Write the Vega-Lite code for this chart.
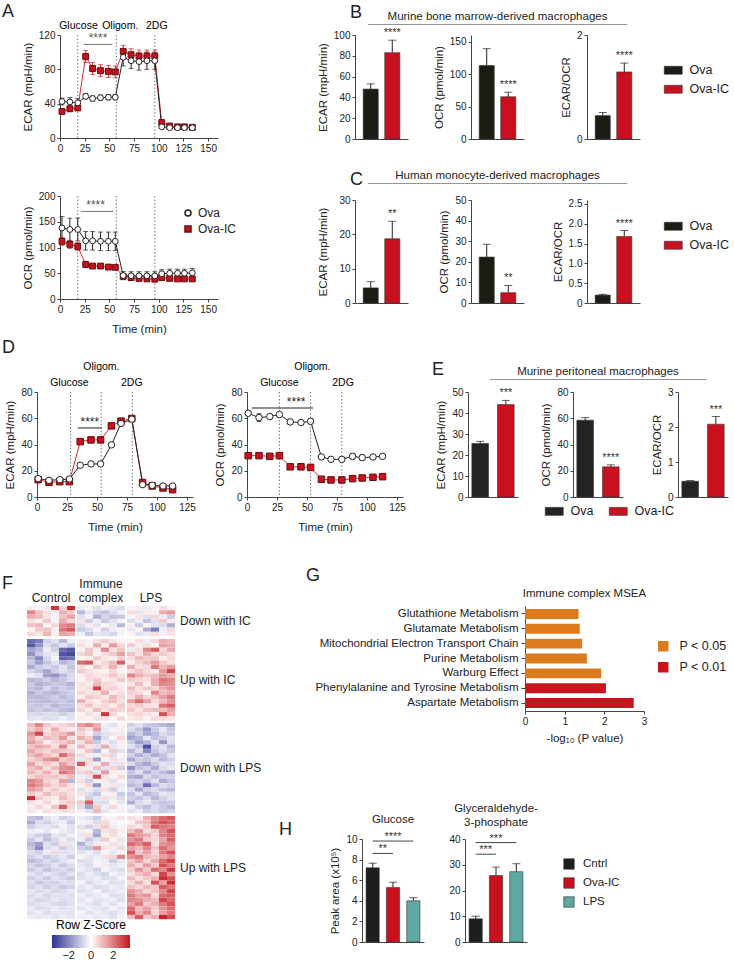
{
"$schema":"https://vega.github.io/schema/vega-lite/v6.json",
"padding":{"left":2,"top":3,"right":0,"bottom":0},
"config":{
 "font":"Liberation Sans",
 "view":{"stroke":null},
 "axis":{"grid":false,"labelFontSize":10,"labelColor":"#222","titleFontSize":11.5,"titleFontWeight":"normal","titleColor":"#222","domainColor":"#444","tickColor":"#444","tickSize":3,"labelPadding":2,"titlePadding":5,"labelOverlap":false},
 "axisX":{"titlePadding":9},
 "title":{"fontWeight":"normal","fontSize":11.5,"color":"#222"},
 "legend":{"labelFontSize":11.5,"labelColor":"#222","titleFontWeight":"normal"},
 "header":{"labelFontSize":11.5,"labelColor":"#222"}
},
"datasets":{
 "inj":[{"p":"a","t":18,"lx":18.7,"lab":"Glucose"},{"p":"a","t":57,"lx":61,"lab":"Oligom."},{"p":"a","t":96,"lx":98,"lab":"2DG"},
  {"p":"d1","t":28,"lx":27,"lab":"Glucose"},{"p":"d1","t":53.5,"lx":53.7,"lab":"Oligom."},{"p":"d1","t":79.5,"lx":79,"lab":"2DG"},
  {"p":"d2","t":27,"lx":27,"lab":"Glucose"},{"p":"d2","t":53,"lx":54.5,"lab":"Oligom."},{"p":"d2","t":79,"lx":80,"lab":"2DG"}],
 "sig":[{"p":"a1","t":24,"t2":53,"tm":38.5,"y":109,"lab":"****"},
  {"p":"a2","t":21,"t2":54,"tm":36,"y":170,"lab":"****"},
  {"p":"d1","t":34,"t2":54,"tm":44,"y":52.6,"lab":"****"},
  {"p":"d2","t":4,"t2":55,"tm":41,"y":67.8,"lab":"****"}],
 "a_ecar":[
  {"s":"Ova-IC","t":2,"v":31,"e":3},{"s":"Ova-IC","t":10,"v":34,"e":3},{"s":"Ova-IC","t":18,"v":35,"e":3},{"s":"Ova-IC","t":26,"v":95,"e":7},{"s":"Ova-IC","t":33,"v":81,"e":7},{"s":"Ova-IC","t":41,"v":78.5,"e":7},{"s":"Ova-IC","t":49,"v":77.5,"e":7},{"s":"Ova-IC","t":56,"v":77,"e":7},{"s":"Ova-IC","t":64,"v":101,"e":7},{"s":"Ova-IC","t":72,"v":97,"e":7},{"s":"Ova-IC","t":80,"v":95.5,"e":7},{"s":"Ova-IC","t":88,"v":95.5,"e":7},{"s":"Ova-IC","t":96,"v":95.5,"e":7},{"s":"Ova-IC","t":103,"v":18,"e":3},{"s":"Ova-IC","t":111,"v":14,"e":2},{"s":"Ova-IC","t":119,"v":13,"e":1.5},{"s":"Ova-IC","t":126,"v":13,"e":1.5},{"s":"Ova-IC","t":134,"v":12.5,"e":1.5},
  {"s":"Ova","t":2,"v":42.5,"e":4},{"s":"Ova","t":10,"v":42,"e":5},{"s":"Ova","t":18,"v":41,"e":5},{"s":"Ova","t":26,"v":48.5,"e":3},{"s":"Ova","t":33,"v":46,"e":3},{"s":"Ova","t":41,"v":47,"e":3},{"s":"Ova","t":49,"v":47.5,"e":3},{"s":"Ova","t":56,"v":47.5,"e":3},{"s":"Ova","t":64,"v":94,"e":10},{"s":"Ova","t":72,"v":90,"e":9},{"s":"Ova","t":80,"v":89,"e":10},{"s":"Ova","t":88,"v":90,"e":10},{"s":"Ova","t":96,"v":90,"e":10},{"s":"Ova","t":103,"v":13,"e":2},{"s":"Ova","t":111,"v":12,"e":2},{"s":"Ova","t":119,"v":12,"e":1.5},{"s":"Ova","t":126,"v":12,"e":1.5},{"s":"Ova","t":134,"v":12,"e":1.5}],
 "a_ocr":[
  {"s":"Ova-IC","t":2,"v":112,"e":8},{"s":"Ova-IC","t":10,"v":106,"e":8},{"s":"Ova-IC","t":18,"v":102,"e":8},{"s":"Ova-IC","t":26,"v":67,"e":6},{"s":"Ova-IC","t":33,"v":64,"e":3},{"s":"Ova-IC","t":41,"v":64,"e":3},{"s":"Ova-IC","t":49,"v":62,"e":4},{"s":"Ova-IC","t":56,"v":61.5,"e":4},{"s":"Ova-IC","t":64,"v":44,"e":3},{"s":"Ova-IC","t":72,"v":41.5,"e":3},{"s":"Ova-IC","t":80,"v":40,"e":3},{"s":"Ova-IC","t":88,"v":39,"e":3},{"s":"Ova-IC","t":96,"v":38.5,"e":3},{"s":"Ova-IC","t":103,"v":41.5,"e":3},{"s":"Ova-IC","t":111,"v":40,"e":3},{"s":"Ova-IC","t":119,"v":39,"e":3},{"s":"Ova-IC","t":126,"v":39,"e":3},{"s":"Ova-IC","t":134,"v":39,"e":3},
  {"s":"Ova","t":2,"v":138,"e":22},{"s":"Ova","t":10,"v":135,"e":22},{"s":"Ova","t":18,"v":135,"e":22},{"s":"Ova","t":26,"v":113,"e":18},{"s":"Ova","t":33,"v":113,"e":18},{"s":"Ova","t":41,"v":112,"e":18},{"s":"Ova","t":49,"v":112,"e":18},{"s":"Ova","t":56,"v":112,"e":18},{"s":"Ova","t":64,"v":45.5,"e":8},{"s":"Ova","t":72,"v":45,"e":8},{"s":"Ova","t":80,"v":45,"e":8},{"s":"Ova","t":88,"v":45,"e":8},{"s":"Ova","t":96,"v":45,"e":8},{"s":"Ova","t":103,"v":49,"e":8},{"s":"Ova","t":111,"v":50,"e":8},{"s":"Ova","t":119,"v":50,"e":8},{"s":"Ova","t":126,"v":50,"e":8},{"s":"Ova","t":134,"v":51,"e":8}],
 "d_ecar":[
  {"s":"Ova-IC","t":1,"v":13.2,"e":1.5},{"s":"Ova-IC","t":10,"v":11.2,"e":1.5},{"s":"Ova-IC","t":19,"v":11.7,"e":1.5},{"s":"Ova-IC","t":27,"v":11.7,"e":1.5},{"s":"Ova-IC","t":36,"v":42.2,"e":1.5},{"s":"Ova-IC","t":45,"v":43.5,"e":2},{"s":"Ova-IC","t":53,"v":43.5,"e":2},{"s":"Ova-IC","t":62,"v":54.2,"e":2},{"s":"Ova-IC","t":70,"v":57.8,"e":1.5},{"s":"Ova-IC","t":79,"v":59.8,"e":1.5},{"s":"Ova-IC","t":88,"v":11,"e":1.5},{"s":"Ova-IC","t":96,"v":8.4,"e":1},{"s":"Ova-IC","t":105,"v":6.9,"e":1},{"s":"Ova-IC","t":113,"v":5.6,"e":1},
  {"s":"Ova","t":1,"v":14,"e":1},{"s":"Ova","t":10,"v":12.7,"e":1},{"s":"Ova","t":19,"v":13.2,"e":1},{"s":"Ova","t":27,"v":13.7,"e":1},{"s":"Ova","t":36,"v":24.2,"e":1},{"s":"Ova","t":45,"v":25.2,"e":1},{"s":"Ova","t":53,"v":25.2,"e":1},{"s":"Ova","t":62,"v":39.7,"e":1},{"s":"Ova","t":70,"v":56,"e":1},{"s":"Ova","t":79,"v":59.3,"e":1.5},{"s":"Ova","t":88,"v":9.4,"e":1},{"s":"Ova","t":96,"v":8.9,"e":1},{"s":"Ova","t":105,"v":8.4,"e":1},{"s":"Ova","t":113,"v":8.4,"e":1}],
 "d_ocr":[
  {"s":"Ova-IC","t":1,"v":31.5,"e":1},{"s":"Ova-IC","t":10,"v":31.5,"e":1},{"s":"Ova-IC","t":19,"v":31,"e":1},{"s":"Ova-IC","t":27,"v":31.5,"e":1},{"s":"Ova-IC","t":36,"v":23,"e":1},{"s":"Ova-IC","t":45,"v":23,"e":1},{"s":"Ova-IC","t":53,"v":22.5,"e":1},{"s":"Ova-IC","t":62,"v":13.5,"e":1},{"s":"Ova-IC","t":70,"v":13,"e":1},{"s":"Ova-IC","t":79,"v":13,"e":1},{"s":"Ova-IC","t":88,"v":14,"e":1},{"s":"Ova-IC","t":96,"v":14.5,"e":1},{"s":"Ova-IC","t":105,"v":15,"e":1},{"s":"Ova-IC","t":113,"v":15.5,"e":1},
  {"s":"Ova","t":1,"v":63.8,"e":1.5},{"s":"Ova","t":10,"v":60.5,"e":3},{"s":"Ova","t":19,"v":61.3,"e":1.5},{"s":"Ova","t":27,"v":62.8,"e":1},{"s":"Ova","t":36,"v":57.2,"e":2},{"s":"Ova","t":45,"v":56.7,"e":1.5},{"s":"Ova","t":53,"v":57.7,"e":2},{"s":"Ova","t":62,"v":30.5,"e":1.5},{"s":"Ova","t":70,"v":28.7,"e":1.5},{"s":"Ova","t":79,"v":28.7,"e":1.5},{"s":"Ova","t":88,"v":31,"e":2},{"s":"Ova","t":96,"v":30,"e":2},{"s":"Ova","t":105,"v":30.5,"e":1.5},{"s":"Ova","t":113,"v":31,"e":1.5}],
 "bars":[
  {"p":"b1","g":"Ova","v":48,"hi":53,"sig":""},{"p":"b1","g":"Ova-IC","v":83,"hi":95,"sig":"****"},
  {"p":"b2","g":"Ova","v":113,"hi":139,"sig":""},{"p":"b2","g":"Ova-IC","v":65,"hi":72,"sig":"****"},
  {"p":"b3","g":"Ova","v":0.45,"hi":0.51,"sig":""},{"p":"b3","g":"Ova-IC","v":1.29,"hi":1.46,"sig":"****"},
  {"p":"c1","g":"Ova","v":4.4,"hi":6.2,"sig":""},{"p":"c1","g":"Ova-IC","v":18.7,"hi":23.8,"sig":"**"},
  {"p":"c2","g":"Ova","v":22.3,"hi":28.5,"sig":""},{"p":"c2","g":"Ova-IC","v":5,"hi":8.5,"sig":"**"},
  {"p":"c3","g":"Ova","v":0.2,"hi":0.22,"sig":""},{"p":"c3","g":"Ova-IC","v":1.68,"hi":1.83,"sig":"****"},
  {"p":"e1","g":"Ova","v":25.5,"hi":26.5,"sig":""},{"p":"e1","g":"Ova-IC","v":44,"hi":46,"sig":"***"},
  {"p":"e2","g":"Ova","v":58.5,"hi":60.5,"sig":""},{"p":"e2","g":"Ova-IC","v":23,"hi":24.5,"sig":"****"},
  {"p":"e3","g":"Ova","v":0.45,"hi":0.47,"sig":""},{"p":"e3","g":"Ova-IC","v":2.08,"hi":2.3,"sig":"***"}],
 "hbars":[
  {"p":"h1","g":"Cntrl","v":7.2,"hi":7.65},{"p":"h1","g":"Ova-IC","v":5.3,"hi":5.8},{"p":"h1","g":"LPS","v":4.0,"hi":4.3},
  {"p":"h2","g":"Cntrl","v":9,"hi":10},{"p":"h2","g":"Ova-IC","v":25.8,"hi":29.1},{"p":"h2","g":"LPS","v":27.3,"hi":30.4}],
 "hsig":[
  {"p":"h1","g1":"Cntrl","g2":"LPS","gm":"Ova-IC","y":9.8,"lab":"****"},
  {"p":"h1","g1":"Cntrl","g2":"Ova-IC","gm":"Cntrl","y":8.6,"lab":"**"},
  {"p":"h2","g1":"Cntrl","g2":"LPS","gm":"Ova-IC","y":38.6,"lab":"***"},
  {"p":"h2","g1":"Cntrl","g2":"Ova-IC","gm":"Cntrl","y":34.1,"lab":"***"}],
 "msea":[
  {"m":"Glutathione Metabolism","v":1.35,"p":"P < 0.05"},
  {"m":"Glutamate Metabolism","v":1.38,"p":"P < 0.05"},
  {"m":"Mitochondrial Electron Transport Chain","v":1.44,"p":"P < 0.05"},
  {"m":"Purine Metabolism","v":1.56,"p":"P < 0.05"},
  {"m":"Warburg Effect","v":1.92,"p":"P < 0.05"},
  {"m":"Phenylalanine and Tyrosine Metabolism","v":2.04,"p":"P < 0.01"},
  {"m":"Aspartate Metabolism","v":2.74,"p":"P < 0.01"}],
 "hm":[
  {"g":1,"r":1,"c":[0.3,-0.2,0.4,3.0,0.6,3.2],"i":[-0.3,0.2,-0.5,-0.2,-0.4,-0.6],"l":[-0.2,0.3,-0.3,0.2,0.5,0.2]},
  {"g":1,"r":2,"c":[1.8,0.9,0.5,-0.3,1.2,0.8],"i":[-1.2,-0.4,-0.8,-1.0,-0.6,-0.3],"l":[0.5,-0.4,0.3,-0.2,1.2,1.5]},
  {"g":1,"r":3,"c":[1.2,1.0,0.4,0.2,0.9,1.4],"i":[-0.5,-0.2,-1.3,-0.7,-1.0,-0.9],"l":[-0.2,0.4,-0.5,0.6,-0.3,-0.9]},
  {"g":1,"r":4,"c":[0.5,0.2,0.8,-0.2,1.2,0.6],"i":[0.4,-0.8,-0.3,-0.9,-0.5,0.2],"l":[-0.6,-0.3,-1.0,-0.5,0.8,0.3]},
  {"g":1,"r":5,"c":[0.9,1.1,0.2,0.6,1.8,2.0],"i":[-0.6,0.3,-0.5,-0.1,-0.4,-1.2],"l":[0.3,-0.9,0.2,-0.5,-0.6,-1.4]},
  {"g":1,"r":6,"c":[0.2,0.8,0.9,0.3,2.1,2.5],"i":[-0.9,-0.6,-0.2,-0.8,-0.3,0.2],"l":[-0.4,0.2,-1.4,-2.2,-0.3,0.6]},
  {"g":1,"r":7,"c":[0.6,0.4,1.1,0.2,1.4,1.2],"i":[-0.3,-1.0,-0.4,-0.5,-0.7,-0.2],"l":[0.2,-0.5,-0.3,0.5,-0.2,0.4]},
  {"g":2,"r":8,"c":[-2.5,-2.2,-0.8,-0.5,-1.2,-0.3],"i":[0.3,-0.2,0.5,0.8,0.4,0.2],"l":[0.2,0.5,-0.3,0.6,1.2,1.0]},
  {"g":2,"r":9,"c":[-2.8,-1.8,-0.6,-1.0,-0.5,-0.9],"i":[0.5,0.2,1.2,0.3,1.5,0.6],"l":[0.8,0.3,0.5,0.2,1.4,1.2]},
  {"g":2,"r":10,"c":[-1.5,-1.2,-0.3,-0.8,-2.5,-2.8],"i":[-0.2,0.8,0.3,1.8,0.5,0.9],"l":[-0.3,0.5,1.8,2.4,0.6,1.3]},
  {"g":2,"r":11,"c":[-1.8,-0.9,-0.5,-0.4,-2.9,-3.1],"i":[0.6,0.9,0.2,0.5,0.8,1.4],"l":[0.9,0.4,1.2,0.6,0.8,0.5]},
  {"g":2,"r":12,"c":[-1.2,-2.0,-0.7,-0.2,-2.6,-2.4],"i":[0.2,0.3,0.8,0.4,0.3,0.7],"l":[0.5,1.1,0.8,0.9,0.3,0.6]},
  {"g":2,"r":13,"c":[-0.9,-1.6,-1.0,-0.5,-1.2,-0.9],"i":[2.2,2.5,0.3,0.6,1.0,2.4],"l":[0.3,0.7,1.0,1.5,0.8,0.5]},
  {"g":2,"r":14,"c":[-1.4,-0.8,-0.6,-0.9,-0.5,-1.0],"i":[0.5,0.2,0.9,0.5,1.2,0.3],"l":[1.2,0.5,0.6,2.0,1.0,1.5]},
  {"g":2,"r":15,"c":[-0.7,-1.0,-1.5,-0.8,-0.5,-0.8],"i":[0.8,0.5,0.3,0.2,0.6,0.2],"l":[0.5,0.9,0.6,0.3,1.5,2.8]},
  {"g":2,"r":16,"c":[-0.3,-0.5,-1.6,-1.8,-1.2,-0.7],"i":[0.3,0.6,0.4,0.5,0.9,0.5],"l":[1.8,1.2,0.8,1.0,1.5,1.2]},
  {"g":2,"r":17,"c":[-1.2,-1.0,-0.8,-1.2,-0.9,-0.6],"i":[0.2,0.5,0.8,0.3,0.4,0.8],"l":[0.8,0.6,0.5,1.2,2.0,1.8]},
  {"g":2,"r":18,"c":[-0.9,-1.3,-1.1,-0.9,-1.0,-1.3],"i":[0.5,0.3,1.0,0.6,0.5,0.3],"l":[0.4,1.0,0.3,1.2,1.8,1.6]},
  {"g":2,"r":19,"c":[-1.0,-1.2,-0.7,-1.1,-0.8,-1.0],"i":[0.4,0.5,2.8,0.6,0.7,0.4],"l":[1.0,0.5,0.8,0.6,1.2,1.6]},
  {"g":2,"r":20,"c":[-1.3,-0.9,-1.1,-1.3,-1.0,-0.8],"i":[0.6,0.4,0.5,1.2,0.3,0.5],"l":[0.7,0.6,0.2,1.8,1.0,1.2]},
  {"g":2,"r":21,"c":[-1.1,-1.2,-1.0,-0.8,-1.1,-0.9],"i":[0.3,0.8,0.6,0.4,1.0,0.6],"l":[0.5,1.2,0.6,0.9,1.4,2.0]},
  {"g":2,"r":22,"c":[-1.0,-1.1,-1.2,-1.0,-0.9,-1.1],"i":[1.2,0.5,0.3,0.7,1.0,0.5],"l":[1.4,2.2,1.4,0.6,1.0,1.6]},
  {"g":2,"r":23,"c":[-0.9,-1.0,-0.8,-1.2,-1.0,-1.0],"i":[0.5,0.9,0.4,0.6,0.3,0.8],"l":[0.6,0.8,0.5,0.4,2.1,2.4]},
  {"g":2,"r":24,"c":[-1.0,-0.8,-1.0,-0.9,-1.1,-1.2],"i":[0.6,0.3,1.0,0.5,0.8,0.6],"l":[0.8,0.4,0.9,1.0,1.0,1.4]},
  {"g":2,"r":25,"c":[-0.6,-0.7,-0.5,-0.6,-0.8,-0.6],"i":[0.2,0.5,0.3,3.0,0.6,0.2],"l":[0.5,0.6,0.4,0.3,2.6,1.2]},
  {"g":2,"r":26,"c":[-0.5,-0.4,-0.6,-0.5,-0.3,-0.5],"i":[0.3,0.2,0.5,0.4,0.2,0.6],"l":[0.3,0.5,0.2,0.6,0.5,0.4]},
  {"g":3,"r":27,"c":[1.0,1.8,0.8,0.5,0.6,0.9],"i":[1.5,1.8,1.2,-0.3,-0.5,0.2],"l":[-0.8,-0.5,-0.9,-1.0,-1.2,-1.4]},
  {"g":3,"r":28,"c":[0.8,1.2,0.5,1.2,0.5,0.3],"i":[0.9,0.5,1.5,-0.4,-0.2,0.3],"l":[-0.6,-1.0,-1.8,-0.9,-0.4,-1.0]},
  {"g":3,"r":29,"c":[1.6,2.8,0.6,0.9,1.0,1.6],"i":[0.6,0.3,-0.8,-0.5,0.4,-0.3],"l":[-1.2,-0.8,-1.5,-1.2,-0.6,-0.9]},
  {"g":3,"r":30,"c":[1.2,0.6,1.0,0.8,1.5,0.5],"i":[1.2,0.8,-1.5,-0.6,0.2,0.6],"l":[-1.5,-1.2,-0.4,-1.0,-0.8,-0.5]},
  {"g":3,"r":31,"c":[1.5,1.0,0.3,0.6,0.8,1.2],"i":[0.5,1.2,-0.9,-0.3,-0.6,0.3],"l":[-0.9,-1.6,-1.2,-0.5,-1.8,-0.6]},
  {"g":3,"r":32,"c":[0.9,1.3,1.1,0.5,1.8,0.4],"i":[1.0,0.4,-0.5,1.2,-0.4,-0.2],"l":[-0.5,-1.0,-3.0,-0.8,-0.5,-1.2]},
  {"g":3,"r":33,"c":[1.3,0.8,0.6,1.0,0.8,0.7],"i":[0.3,0.9,-1.2,-0.2,0.8,-0.5],"l":[-1.2,-0.6,-2.0,-1.0,-0.6,-0.9]},
  {"g":3,"r":34,"c":[1.0,1.4,0.9,0.6,2.2,1.2],"i":[0.6,0.3,-0.3,0.5,-0.6,0.2],"l":[-0.8,-1.3,-0.9,-1.4,-1.0,-0.5]},
  {"g":3,"r":35,"c":[0.7,1.0,1.6,1.9,0.8,1.0],"i":[-0.4,0.6,-1.6,0.2,0.5,-0.3],"l":[-1.5,-0.8,-1.0,-0.6,-1.2,-0.8]},
  {"g":3,"r":36,"c":[1.4,0.6,0.8,0.5,1.4,0.9],"i":[2.5,0.5,0.3,1.2,-0.4,0.5],"l":[-0.6,-1.2,-1.5,-0.9,-0.5,-0.6]},
  {"g":3,"r":37,"c":[0.9,1.2,0.5,1.0,1.6,1.8],"i":[0.4,-0.3,0.9,-0.5,0.6,-0.8],"l":[-1.8,-1.0,-0.8,-1.4,-0.6,-0.4]},
  {"g":3,"r":38,"c":[1.1,0.7,1.2,0.6,2.0,1.6],"i":[0.6,0.8,-0.4,1.5,0.3,-0.2],"l":[-1.0,-0.6,-1.3,-0.8,-1.1,-1.5]},
  {"g":3,"r":39,"c":[0.6,1.0,0.8,0.9,0.6,1.0],"i":[-0.3,0.5,2.6,0.4,0.2,0.6],"l":[-1.3,-1.5,-0.6,-1.0,-0.8,-0.7]},
  {"g":3,"r":40,"c":[1.8,1.5,0.7,0.5,1.4,-1.2],"i":[0.5,-0.8,-0.2,0.3,-0.5,0.2],"l":[-0.9,-0.7,-1.0,-0.5,-1.4,-1.0]},
  {"g":3,"r":41,"c":[2.0,1.6,1.0,0.6,1.0,0.5],"i":[0.3,0.6,-1.8,-0.3,0.4,-0.4],"l":[-1.2,-0.9,-2.4,-1.2,-0.6,-0.8]},
  {"g":3,"r":42,"c":[1.5,1.2,0.5,0.8,0.4,0.6],"i":[-0.5,-0.3,-0.6,0.5,-0.8,-0.3],"l":[-0.6,-1.4,-0.8,-0.6,-1.0,-1.2]},
  {"g":3,"r":43,"c":[0.8,0.5,1.0,0.6,0.8,0.5],"i":[0.4,-0.6,-1.0,-0.2,0.3,-0.9],"l":[-1.0,-0.5,-1.2,-0.9,-0.4,-0.6]},
  {"g":3,"r":44,"c":[3.2,0.8,0.4,0.3,1.0,0.6],"i":[-0.2,-0.8,-0.4,0.5,-0.3,-0.6],"l":[-0.8,-1.0,-0.6,-1.2,-0.8,-0.5]},
  {"g":3,"r":45,"c":[0.5,0.3,0.6,0.2,0.6,0.8],"i":[0.8,2.4,-0.5,-0.6,0.2,-0.4],"l":[-1.4,-0.6,-0.4,-0.8,-1.0,-0.9]},
  {"g":3,"r":46,"c":[0.3,0.6,0.2,0.9,2.4,0.6],"i":[-0.6,-1.5,0.8,-0.3,0.6,-0.2],"l":[-0.3,-0.8,-1.1,-0.6,-0.9,-1.2]},
  {"g":3,"r":47,"c":[0.4,0.2,0.5,0.3,0.5,0.4],"i":[0.3,-0.5,1.0,-0.4,-0.2,0.3],"l":[-0.5,-0.3,-0.8,-0.6,-0.9,-0.7]},
  {"g":4,"r":48,"c":[-1.0,-1.2,-0.5,-0.3,-0.8,-0.6],"i":[-0.3,-0.5,-0.8,0.3,-0.2,0.4],"l":[0.5,0.3,1.2,1.8,2.2,2.5]},
  {"g":4,"r":49,"c":[-1.4,-0.6,-0.8,-0.4,-0.3,-0.9],"i":[-0.2,0.3,-0.6,0.6,0.2,-0.1],"l":[0.2,0.8,1.0,2.0,2.6,2.3]},
  {"g":4,"r":50,"c":[-0.8,-0.5,-0.4,-0.6,-0.2,-0.5],"i":[-0.5,-0.8,0.5,0.8,-0.3,0.2],"l":[0.6,0.4,0.9,2.4,2.0,1.8]},
  {"g":4,"r":51,"c":[-0.3,-0.2,-0.4,-0.1,-0.3,-0.5],"i":[0.3,-0.2,-1.2,0.4,0.6,0.3],"l":[1.0,1.6,0.5,0.8,1.8,2.6]},
  {"g":4,"r":52,"c":[-0.5,-0.8,-1.0,-0.4,-0.6,-0.3],"i":[-0.4,0.5,-1.5,0.3,0.5,-0.2],"l":[2.0,1.5,1.2,0.6,1.9,2.2]},
  {"g":4,"r":53,"c":[-0.9,-0.4,-1.1,-0.7,-0.3,-0.6],"i":[-0.3,-0.9,-0.5,0.8,0.2,0.5],"l":[1.6,2.0,0.8,0.6,1.4,2.4]},
  {"g":4,"r":54,"c":[-1.2,-1.6,-0.5,-0.8,0.4,-0.4],"i":[-1.3,-0.6,0.3,-0.2,0.5,-0.3],"l":[2.2,1.8,2.4,0.5,1.6,1.8]},
  {"g":4,"r":55,"c":[-1.0,-2.0,-0.6,-0.4,-0.8,-0.5],"i":[-0.8,-1.0,1.6,0.4,-0.3,0.6],"l":[1.4,1.0,1.8,0.9,2.2,1.6]},
  {"g":4,"r":56,"c":[-0.6,-0.8,-0.3,0.6,-0.5,-0.4],"i":[-0.5,-0.3,-0.6,0.2,-0.4,-0.2],"l":[2.4,0.8,1.4,0.6,2.0,2.6]},
  {"g":4,"r":57,"c":[-0.8,-0.5,-0.9,-0.6,-0.4,-0.8],"i":[0.2,-0.4,-0.3,0.5,0.6,1.8],"l":[1.6,2.0,1.0,0.8,1.4,1.8]},
  {"g":4,"r":58,"c":[-1.1,-0.9,-0.6,-0.8,-0.5,-0.3],"i":[-0.6,-0.5,-0.2,-0.3,-0.8,-0.4],"l":[0.9,1.4,0.6,1.2,2.2,2.8]},
  {"g":4,"r":59,"c":[-0.7,-1.0,-0.8,-0.5,-0.9,-0.6],"i":[-0.4,-0.6,-0.2,0.3,-0.5,-0.3],"l":[1.2,0.6,1.5,0.8,2.6,2.0]},
  {"g":4,"r":60,"c":[-0.9,-0.6,-1.0,-0.7,-0.6,-0.8],"i":[-0.3,-0.5,-0.8,-0.2,-0.4,-0.6],"l":[0.8,1.6,0.9,2.2,1.8,3.0]},
  {"g":4,"r":61,"c":[-0.5,-0.7,-0.4,-0.6,-0.8,-0.5],"i":[-0.6,-0.3,-0.5,-0.7,-0.2,-0.4],"l":[0.5,0.9,1.2,0.6,2.8,1.6]},
  {"g":4,"r":62,"c":[-0.8,-0.6,-0.9,-0.5,-0.7,-0.9],"i":[-0.5,-0.4,-0.3,-0.6,-0.5,-0.2],"l":[1.0,0.5,0.8,1.2,3.2,2.6]},
  {"g":4,"r":63,"c":[-0.6,-0.9,-0.7,-0.8,-0.5,-0.6],"i":[-0.2,-0.6,-0.4,-0.3,-0.6,-0.5],"l":[0.6,1.2,0.5,2.6,1.4,3.2]},
  {"g":4,"r":64,"c":[-0.7,-0.5,-0.8,-0.6,-0.9,-0.7],"i":[-0.4,-0.3,-0.6,-0.5,-0.3,-0.4],"l":[0.9,0.6,1.0,0.8,2.4,2.0]},
  {"g":4,"r":65,"c":[-0.4,-0.6,-0.5,-0.7,-0.6,-0.4],"i":[-0.5,-0.4,-0.2,-0.6,-0.4,-0.3],"l":[1.6,1.2,0.6,0.9,1.8,2.8]},
  {"g":4,"r":66,"c":[-0.6,-0.4,-0.7,-0.5,-0.5,-0.6],"i":[-0.3,-0.5,-0.4,-0.2,-0.6,-0.5],"l":[2.0,1.4,1.6,0.6,2.2,2.4]},
  {"g":4,"r":67,"c":[-0.5,-0.7,-0.6,-0.4,-0.6,-0.5],"i":[-0.4,-0.2,-0.5,-0.4,-0.3,-0.6],"l":[1.8,1.6,1.2,1.0,2.8,2.2]},
  {"g":4,"r":68,"c":[-0.6,-0.5,-0.4,-0.6,-0.7,-0.5],"i":[-0.3,-0.4,-0.6,-0.3,-0.5,-0.2],"l":[1.4,2.0,0.8,1.2,2.0,2.6]},
  {"g":4,"r":69,"c":[-0.4,-0.6,-0.5,-0.3,-0.5,-0.4],"i":[-0.5,-0.3,-0.4,-0.5,-0.2,-0.4],"l":[2.2,1.0,1.4,0.8,1.6,2.2]},
  {"g":4,"r":70,"c":[-0.5,-0.3,-0.6,-0.4,-0.4,-0.5],"i":[-0.2,-0.5,-0.3,-0.4,-0.6,-0.3],"l":[2.6,1.2,1.8,0.6,1.4,2.0]},
  {"g":4,"r":71,"c":[-0.3,-0.4,-0.3,-0.5,-0.3,-0.4],"i":[-0.3,-0.2,-0.4,-0.3,-0.5,-0.2],"l":[1.0,2.4,0.8,1.2,3.3,2.6]}]
},
"spacing":4,
"resolve":{"scale":{"color":"independent","fill":"independent","stroke":"independent","shape":"independent"}},
"vconcat":[
{"hconcat":[
 {"width":1,"height":1,"data":{"values":[]},"mark":{"type":"point","opacity":0},"title":{"text":"A","anchor":"start","frame":"group","fontSize":18,"offset":14}},
 {"hconcat":[
 {"vconcat":[
  {"width":158,"height":103,
   "layer":[
    {"data":{"name":"a_ecar"},"mark":{"type":"point","filled":true,"opacity":0,"size":1},"encoding":{
     "x":{"field":"t","type":"quantitative","scale":{"domain":[0,150]},"title":null,"axis":{"values":[0,25,50,75,100,125,150],"tickCount":20,"format":"d","labelFlush":false,"labelOverlap":false}},
     "y":{"field":"v","type":"quantitative","scale":{"domain":[0,120]},"title":"ECAR (mpH/min)","axis":{"values":[0,40,80,120],"tickCount":20,"format":"d","labelOverlap":false}}}},
    {"data":{"name":"inj"},"transform":[{"filter":"datum.p == 'a'"}],"mark":{"type":"rule","strokeDash":[1.5,2],"color":"#777"},"encoding":{"x":{"field":"t","type":"quantitative","title":null}}},
    {"data":{"name":"inj"},"transform":[{"filter":"datum.p == 'a'"}],"mark":{"type":"text","baseline":"bottom","dy":-4,"fontSize":10.5},"encoding":{"x":{"field":"lx","type":"quantitative","title":null},"y":{"datum":120,"type":"quantitative","title":"ECAR (mpH/min)"},"text":{"field":"lab"}}},
    {"data":{"name":"sig"},"transform":[{"filter":"datum.p == 'a1'"}],"mark":{"type":"rule","color":"#777"},"encoding":{"x":{"field":"t","type":"quantitative","title":null},"x2":{"field":"t2"},"y":{"field":"y","type":"quantitative","title":"ECAR (mpH/min)"}}},
    {"data":{"name":"sig"},"transform":[{"filter":"datum.p == 'a1'"}],"mark":{"type":"text","baseline":"bottom","dy":1,"fontSize":12,"color":"#555"},"encoding":{"x":{"field":"tm","type":"quantitative","title":null},"y":{"field":"y","type":"quantitative","title":"ECAR (mpH/min)"},"text":{"field":"lab"}}},
    {"data":{"name":"a_ecar"},"mark":{"type":"errorbar","ticks":{"size":5},"thickness":1},"encoding":{"x":{"field":"t","type":"quantitative","title":null},"y":{"field":"v","type":"quantitative","title":"ECAR (mpH/min)"},"yError":{"field":"e"},"color":{"field":"s","type":"nominal","scale":{"domain":["Ova-IC","Ova"],"range":["#d42a30","#222222"]},"legend":null}}},
    {"data":{"name":"a_ecar"},"mark":{"type":"line","strokeWidth":1},"encoding":{"x":{"field":"t","type":"quantitative","title":null},"y":{"field":"v","type":"quantitative","title":"ECAR (mpH/min)"},"color":{"field":"s","type":"nominal","scale":{"domain":["Ova-IC","Ova"],"range":["#d42a30","#222222"]},"legend":null}}},
    {"data":{"name":"a_ecar"},"mark":{"type":"point","filled":true,"opacity":1,"strokeWidth":1,"size":34},"encoding":{
     "x":{"field":"t","type":"quantitative","title":null},
     "y":{"field":"v","type":"quantitative","title":"ECAR (mpH/min)"},
     "shape":{"field":"s","type":"nominal","scale":{"domain":["Ova","Ova-IC"],"range":["circle","square"]},"legend":null},
     "fill":{"field":"s","type":"nominal","scale":{"domain":["Ova","Ova-IC"],"range":["#ffffff","#c8101e"]},"legend":null},
     "stroke":{"field":"s","type":"nominal","scale":{"domain":["Ova","Ova-IC"],"range":["#222222","#6a0a0a"]},"legend":null}}}
   ]},
  {"width":158,"height":103,
   "layer":[
    {"data":{"name":"a_ocr"},"mark":{"type":"point","filled":true,"opacity":0,"size":1},"encoding":{
     "x":{"field":"t","type":"quantitative","scale":{"domain":[0,150]},"title":"Time (min)","axis":{"values":[0,25,50,75,100,125,150],"tickCount":20,"format":"d","labelFlush":false,"labelOverlap":false}},
     "y":{"field":"v","type":"quantitative","scale":{"domain":[0,200]},"title":"OCR (pmol/min)","axis":{"values":[0,50,100,150,200],"tickCount":20,"format":"d","labelOverlap":false}}}},
    {"data":{"name":"inj"},"transform":[{"filter":"datum.p == 'a'"}],"mark":{"type":"rule","strokeDash":[1.5,2],"color":"#777"},"encoding":{"x":{"field":"t","type":"quantitative","title":"Time (min)"}}},
    {"data":{"name":"sig"},"transform":[{"filter":"datum.p == 'a2'"}],"mark":{"type":"rule","color":"#777"},"encoding":{"x":{"field":"t","type":"quantitative","title":"Time (min)"},"x2":{"field":"t2"},"y":{"field":"y","type":"quantitative","title":"OCR (pmol/min)"}}},
    {"data":{"name":"sig"},"transform":[{"filter":"datum.p == 'a2'"}],"mark":{"type":"text","baseline":"bottom","dy":1,"fontSize":12,"color":"#555"},"encoding":{"x":{"field":"tm","type":"quantitative","title":"Time (min)"},"y":{"field":"y","type":"quantitative","title":"OCR (pmol/min)"},"text":{"field":"lab"}}},
    {"data":{"name":"a_ocr"},"mark":{"type":"errorbar","ticks":{"size":5},"thickness":1},"encoding":{"x":{"field":"t","type":"quantitative","title":"Time (min)"},"y":{"field":"v","type":"quantitative","title":"OCR (pmol/min)"},"yError":{"field":"e"},"color":{"field":"s","type":"nominal","scale":{"domain":["Ova-IC","Ova"],"range":["#d42a30","#222222"]},"legend":null}}},
    {"data":{"name":"a_ocr"},"mark":{"type":"line","strokeWidth":1},"encoding":{"x":{"field":"t","type":"quantitative","title":"Time (min)"},"y":{"field":"v","type":"quantitative","title":"OCR (pmol/min)"},"color":{"field":"s","type":"nominal","scale":{"domain":["Ova-IC","Ova"],"range":["#d42a30","#222222"]},"legend":null}}},
    {"data":{"name":"a_ocr"},"mark":{"type":"point","filled":true,"opacity":1,"strokeWidth":1,"size":34},"encoding":{
     "x":{"field":"t","type":"quantitative","title":"Time (min)"},
     "y":{"field":"v","type":"quantitative","title":"OCR (pmol/min)"},
     "shape":{"field":"s","type":"nominal","scale":{"domain":["Ova","Ova-IC"],"range":["circle","square"]},"legend":{"orient":"none","legendX":122,"legendY":11,"title":null,"labelFontSize":12,"symbolSize":36,"rowPadding":4}},
     "fill":{"field":"s","type":"nominal","scale":{"domain":["Ova","Ova-IC"],"range":["#ffffff","#c8101e"]},"legend":{"orient":"none","legendX":122,"legendY":11,"title":null,"labelFontSize":12,"symbolSize":36,"rowPadding":4}},
     "stroke":{"field":"s","type":"nominal","scale":{"domain":["Ova","Ova-IC"],"range":["#222222","#6a0a0a"]},"legend":{"orient":"none","legendX":122,"legendY":11,"title":null,"labelFontSize":12,"symbolSize":36,"rowPadding":4}}}}
   ]}
 ],"bounds":"flush","spacing":58,"resolve":{"scale":{"color":"independent","fill":"independent","stroke":"independent","shape":"independent"}}},
 {"vconcat":[
  {"hconcat":[
   {"width":53,"height":104,"data":{"name":"bars"},"transform":[{"filter":"datum.p == 'b1'"}],
    "title":{"text":"B","anchor":"start","frame":"group","fontSize":18,"dx":-5,"offset":5},
    "encoding":{"x":{"field":"g","type":"nominal","sort":["Ova","Ova-IC"],"scale":{"paddingInner":0.3,"paddingOuter":0.38},"title":null,"axis":{"labels":false,"ticks":false}}},
    "layer":[
     {"mark":{"type":"rule","color":"#222"},"encoding":{"y":{"field":"v","type":"quantitative","scale":{"domain":[0,100]},"title":"ECAR (mpH/min)","axis":{"values":[0,20,40,60,80,100],"tickCount":20,"format":"d","minExtent":22,"maxExtent":22,"labelOverlap":false}},"y2":{"field":"hi"}}},
     {"mark":{"type":"tick","color":"#222","size":8,"thickness":1},"encoding":{"y":{"field":"hi","type":"quantitative","title":"ECAR (mpH/min)"}}},
     {"mark":{"type":"bar","stroke":"#333","strokeWidth":0.6},"encoding":{"y":{"field":"v","type":"quantitative","title":"ECAR (mpH/min)"},"fill":{"field":"g","type":"nominal","scale":{"domain":["Ova","Ova-IC"],"range":["#1c1c14","#c8101e"]},"legend":null}}},
     {"mark":{"type":"text","baseline":"bottom","dy":-2,"fontSize":11,"color":"#333"},"encoding":{"y":{"field":"hi","type":"quantitative","title":"ECAR (mpH/min)"},"text":{"field":"sig"}}}
    ]},
   {"width":53,"height":104,"data":{"name":"bars"},"transform":[{"filter":"datum.p == 'b2'"}],
    "title":{"text":"Murine bone marrow-derived macrophages","subtitle":"───────────────────────────────────────────","anchor":"middle","frame":"group","fontSize":11.5,"subtitleFont":"DejaVu Sans","subtitleFontSize":10,"subtitleColor":"#888","subtitlePadding":-2,"offset":5},
    "encoding":{"x":{"field":"g","type":"nominal","sort":["Ova","Ova-IC"],"scale":{"paddingInner":0.3,"paddingOuter":0.38},"title":null,"axis":{"labels":false,"ticks":false}}},
    "layer":[
     {"mark":{"type":"rule","color":"#222"},"encoding":{"y":{"field":"v","type":"quantitative","scale":{"domain":[0,150]},"title":"OCR (pmol/min)","axis":{"values":[0,50,100,150],"tickCount":20,"format":"d","labelOverlap":false}},"y2":{"field":"hi"}}},
     {"mark":{"type":"tick","color":"#222","size":8,"thickness":1},"encoding":{"y":{"field":"hi","type":"quantitative","title":"OCR (pmol/min)"}}},
     {"mark":{"type":"bar","stroke":"#333","strokeWidth":0.6},"encoding":{"y":{"field":"v","type":"quantitative","title":"OCR (pmol/min)"},"fill":{"field":"g","type":"nominal","scale":{"domain":["Ova","Ova-IC"],"range":["#1c1c14","#c8101e"]},"legend":null}}},
     {"mark":{"type":"text","baseline":"bottom","dy":-2,"fontSize":11,"color":"#333"},"encoding":{"y":{"field":"hi","type":"quantitative","title":"OCR (pmol/min)"},"text":{"field":"sig"}}}
    ]},
   {"width":53,"height":104,"data":{"name":"bars"},"transform":[{"filter":"datum.p == 'b3'"}],
    "encoding":{"x":{"field":"g","type":"nominal","sort":["Ova","Ova-IC"],"scale":{"paddingInner":0.3,"paddingOuter":0.38},"title":null,"axis":{"labels":false,"ticks":false}}},
    "layer":[
     {"mark":{"type":"rule","color":"#222"},"encoding":{"y":{"field":"v","type":"quantitative","scale":{"domain":[0,2]},"title":"ECAR/OCR","axis":{"values":[0,1,2],"tickCount":20,"format":"d","labelOverlap":false}},"y2":{"field":"hi"}}},
     {"mark":{"type":"tick","color":"#222","size":8,"thickness":1},"encoding":{"y":{"field":"hi","type":"quantitative","title":"ECAR/OCR"}}},
     {"mark":{"type":"bar","stroke":"#333","strokeWidth":0.6},"encoding":{"y":{"field":"v","type":"quantitative","title":"ECAR/OCR"},"fill":{"field":"g","type":"nominal","scale":{"domain":["Ova","Ova-IC"],"range":["#1c1c14","#c8101e"]},"legend":{"orient":"none","legendX":80,"legendY":29,"title":null,"symbolType":"M-1.8,-0.8H1.8V0.8H-1.8Z","symbolSize":100,"labelFontSize":12.5,"rowPadding":6,"labelOffset":10,"symbolStrokeColor":"#333","symbolStrokeWidth":0.6}}}},
     {"mark":{"type":"text","baseline":"bottom","dy":-2,"fontSize":11,"color":"#333"},"encoding":{"y":{"field":"hi","type":"quantitative","title":"ECAR/OCR"},"text":{"field":"sig"}}}
    ]}
  ],"bounds":"flush","spacing":63,"resolve":{"scale":{"color":"independent","fill":"independent","stroke":"independent","shape":"independent"}}},
  {"hconcat":[
   {"width":53,"height":103,"data":{"name":"bars"},"transform":[{"filter":"datum.p == 'c1'"}],
    "title":{"text":"C","anchor":"start","frame":"group","fontSize":18,"dx":-5,"offset":6},
    "encoding":{"x":{"field":"g","type":"nominal","sort":["Ova","Ova-IC"],"scale":{"paddingInner":0.3,"paddingOuter":0.38},"title":null,"axis":{"labels":false,"ticks":false}}},
    "layer":[
     {"mark":{"type":"rule","color":"#222"},"encoding":{"y":{"field":"v","type":"quantitative","scale":{"domain":[0,30]},"title":"ECAR (mpH/min)","axis":{"values":[0,10,20,30],"tickCount":20,"format":"d","minExtent":22,"maxExtent":22,"labelOverlap":false}},"y2":{"field":"hi"}}},
     {"mark":{"type":"tick","color":"#222","size":8,"thickness":1},"encoding":{"y":{"field":"hi","type":"quantitative","title":"ECAR (mpH/min)"}}},
     {"mark":{"type":"bar","stroke":"#333","strokeWidth":0.6},"encoding":{"y":{"field":"v","type":"quantitative","title":"ECAR (mpH/min)"},"fill":{"field":"g","type":"nominal","scale":{"domain":["Ova","Ova-IC"],"range":["#1c1c14","#c8101e"]},"legend":null}}},
     {"mark":{"type":"text","baseline":"bottom","dy":-2,"fontSize":11,"color":"#333"},"encoding":{"y":{"field":"hi","type":"quantitative","title":"ECAR (mpH/min)"},"text":{"field":"sig"}}}
    ]},
   {"width":53,"height":103,"data":{"name":"bars"},"transform":[{"filter":"datum.p == 'c2'"}],
    "title":{"text":"Human monocyte-derived macrophages","subtitle":"───────────────────────────────────────────","anchor":"middle","frame":"group","fontSize":11.5,"subtitleFont":"DejaVu Sans","subtitleFontSize":10,"subtitleColor":"#888","subtitlePadding":-2,"offset":6},
    "encoding":{"x":{"field":"g","type":"nominal","sort":["Ova","Ova-IC"],"scale":{"paddingInner":0.3,"paddingOuter":0.38},"title":null,"axis":{"labels":false,"ticks":false}}},
    "layer":[
     {"mark":{"type":"rule","color":"#222"},"encoding":{"y":{"field":"v","type":"quantitative","scale":{"domain":[0,50]},"title":"OCR (pmol/min)","axis":{"values":[0,10,20,30,40,50],"tickCount":20,"format":"d","labelOverlap":false}},"y2":{"field":"hi"}}},
     {"mark":{"type":"tick","color":"#222","size":8,"thickness":1},"encoding":{"y":{"field":"hi","type":"quantitative","title":"OCR (pmol/min)"}}},
     {"mark":{"type":"bar","stroke":"#333","strokeWidth":0.6},"encoding":{"y":{"field":"v","type":"quantitative","title":"OCR (pmol/min)"},"fill":{"field":"g","type":"nominal","scale":{"domain":["Ova","Ova-IC"],"range":["#1c1c14","#c8101e"]},"legend":null}}},
     {"mark":{"type":"text","baseline":"bottom","dy":-2,"fontSize":11,"color":"#333"},"encoding":{"y":{"field":"hi","type":"quantitative","title":"OCR (pmol/min)"},"text":{"field":"sig"}}}
    ]},
   {"width":53,"height":103,"data":{"name":"bars"},"transform":[{"filter":"datum.p == 'c3'"}],
    "encoding":{"x":{"field":"g","type":"nominal","sort":["Ova","Ova-IC"],"scale":{"paddingInner":0.3,"paddingOuter":0.38},"title":null,"axis":{"labels":false,"ticks":false}}},
    "layer":[
     {"mark":{"type":"rule","color":"#222"},"encoding":{"y":{"field":"v","type":"quantitative","scale":{"domain":[0,2.5]},"title":"ECAR/OCR","axis":{"values":[0,0.5,1,1.5,2,2.5],"tickCount":20,"labelOverlap":false,"labelExpr":"datum.value == 0 ? '0' : format(datum.value, '.1f')"}},"y2":{"field":"hi"}}},
     {"mark":{"type":"tick","color":"#222","size":8,"thickness":1},"encoding":{"y":{"field":"hi","type":"quantitative","title":"ECAR/OCR"}}},
     {"mark":{"type":"bar","stroke":"#333","strokeWidth":0.6},"encoding":{"y":{"field":"v","type":"quantitative","title":"ECAR/OCR"},"fill":{"field":"g","type":"nominal","scale":{"domain":["Ova","Ova-IC"],"range":["#1c1c14","#c8101e"]},"legend":{"orient":"none","legendX":80,"legendY":20,"title":null,"symbolType":"M-1.8,-0.8H1.8V0.8H-1.8Z","symbolSize":100,"labelFontSize":12.5,"rowPadding":6,"labelOffset":10,"symbolStrokeColor":"#333","symbolStrokeWidth":0.6}}}},
     {"mark":{"type":"text","baseline":"bottom","dy":-2,"fontSize":11,"color":"#333"},"encoding":{"y":{"field":"hi","type":"quantitative","title":"ECAR/OCR"},"text":{"field":"sig"}}}
    ]}
  ],"bounds":"flush","spacing":63,"resolve":{"scale":{"color":"independent","fill":"independent","stroke":"independent","shape":"independent"}}}
 ],"spacing":25,"resolve":{"scale":{"color":"independent","fill":"independent","stroke":"independent","shape":"independent"}}}
 ],"spacing":80,"resolve":{"scale":{"color":"independent","fill":"independent","stroke":"independent","shape":"independent"}}}
],"bounds":"flush","spacing":57,"resolve":{"scale":{"color":"independent","fill":"independent","stroke":"independent","shape":"independent"}}},
{"hconcat":[
 {"width":1,"height":1,"data":{"values":[]},"mark":{"type":"point","opacity":0},"title":{"text":"D","anchor":"start","frame":"group","fontSize":18,"offset":35}},
 {"hconcat":[
 {"hconcat":[
  {"width":156,"height":105,
   "layer":[
    {"data":{"name":"d_ecar"},"mark":{"type":"point","filled":true,"opacity":0,"size":1},"encoding":{
     "x":{"field":"t","type":"quantitative","scale":{"domain":[0,125]},"title":"Time (min)","axis":{"values":[0,25,50,75,100,125],"tickCount":20,"format":"d","labelFlush":false,"labelOverlap":false}},
     "y":{"field":"v","type":"quantitative","scale":{"domain":[0,80]},"title":"ECAR (mpH/min)","axis":{"values":[0,20,40,60,80],"tickCount":20,"format":"d","labelOverlap":false}}}},
    {"data":{"name":"inj"},"transform":[{"filter":"datum.p == 'd1'"}],"mark":{"type":"rule","strokeDash":[1.5,2],"color":"#777"},"encoding":{"x":{"field":"t","type":"quantitative","title":"Time (min)"}}},
    {"data":{"name":"inj"},"transform":[{"filter":"datum.p == 'd1' && datum.lab != 'Oligom.'"}],"mark":{"type":"text","baseline":"bottom","dy":-4,"fontSize":10.5},"encoding":{"x":{"field":"lx","type":"quantitative","title":"Time (min)"},"y":{"datum":80,"type":"quantitative","title":"ECAR (mpH/min)"},"text":{"field":"lab"}}},
    {"data":{"name":"inj"},"transform":[{"filter":"datum.p == 'd1' && datum.lab == 'Oligom.'"}],"mark":{"type":"text","baseline":"bottom","dy":-20,"fontSize":10.5},"encoding":{"x":{"field":"lx","type":"quantitative","title":"Time (min)"},"y":{"datum":80,"type":"quantitative","title":"ECAR (mpH/min)"},"text":{"field":"lab"}}},
    {"data":{"name":"sig"},"transform":[{"filter":"datum.p == 'd1'"}],"mark":{"type":"rule","color":"#222"},"encoding":{"x":{"field":"t","type":"quantitative","title":"Time (min)"},"x2":{"field":"t2"},"y":{"field":"y","type":"quantitative","title":"ECAR (mpH/min)"}}},
    {"data":{"name":"sig"},"transform":[{"filter":"datum.p == 'd1'"}],"mark":{"type":"text","baseline":"bottom","dy":1,"fontSize":12,"color":"#222"},"encoding":{"x":{"field":"tm","type":"quantitative","title":"Time (min)"},"y":{"field":"y","type":"quantitative","title":"ECAR (mpH/min)"},"text":{"field":"lab"}}},
    {"data":{"name":"d_ecar"},"mark":{"type":"errorbar","ticks":{"size":5},"thickness":1},"encoding":{"x":{"field":"t","type":"quantitative","title":"Time (min)"},"y":{"field":"v","type":"quantitative","title":"ECAR (mpH/min)"},"yError":{"field":"e"},"color":{"field":"s","type":"nominal","scale":{"domain":["Ova-IC","Ova"],"range":["#d42a30","#222222"]},"legend":null}}},
    {"data":{"name":"d_ecar"},"mark":{"type":"line","strokeWidth":1},"encoding":{"x":{"field":"t","type":"quantitative","title":"Time (min)"},"y":{"field":"v","type":"quantitative","title":"ECAR (mpH/min)"},"color":{"field":"s","type":"nominal","scale":{"domain":["Ova-IC","Ova"],"range":["#e02030","#222222"]},"legend":null}}},
    {"data":{"name":"d_ecar"},"mark":{"type":"point","filled":true,"opacity":1,"strokeWidth":1,"size":42},"encoding":{
     "x":{"field":"t","type":"quantitative","title":"Time (min)"},
     "y":{"field":"v","type":"quantitative","title":"ECAR (mpH/min)"},
     "shape":{"field":"s","type":"nominal","scale":{"domain":["Ova","Ova-IC"],"range":["circle","square"]},"legend":null},
     "fill":{"field":"s","type":"nominal","scale":{"domain":["Ova","Ova-IC"],"range":["#ffffff","#c8101e"]},"legend":null},
     "stroke":{"field":"s","type":"nominal","scale":{"domain":["Ova","Ova-IC"],"range":["#222222","#6a0a0a"]},"legend":null}}}
   ]},
  {"width":156,"height":105,
   "layer":[
    {"data":{"name":"d_ocr"},"mark":{"type":"point","filled":true,"opacity":0,"size":1},"encoding":{
     "x":{"field":"t","type":"quantitative","scale":{"domain":[0,125]},"title":"Time (min)","axis":{"values":[0,25,50,75,100,125],"tickCount":20,"format":"d","labelFlush":false,"labelOverlap":false}},
     "y":{"field":"v","type":"quantitative","scale":{"domain":[0,80]},"title":"OCR (pmol/min)","axis":{"values":[0,20,40,60,80],"tickCount":20,"format":"d","labelOverlap":false}}}},
    {"data":{"name":"inj"},"transform":[{"filter":"datum.p == 'd2'"}],"mark":{"type":"rule","strokeDash":[1.5,2],"color":"#777"},"encoding":{"x":{"field":"t","type":"quantitative","title":"Time (min)"}}},
    {"data":{"name":"inj"},"transform":[{"filter":"datum.p == 'd2' && datum.lab != 'Oligom.'"}],"mark":{"type":"text","baseline":"bottom","dy":-4,"fontSize":10.5},"encoding":{"x":{"field":"lx","type":"quantitative","title":"Time (min)"},"y":{"datum":80,"type":"quantitative","title":"OCR (pmol/min)"},"text":{"field":"lab"}}},
    {"data":{"name":"inj"},"transform":[{"filter":"datum.p == 'd2' && datum.lab == 'Oligom.'"}],"mark":{"type":"text","baseline":"bottom","dy":-20,"fontSize":10.5},"encoding":{"x":{"field":"lx","type":"quantitative","title":"Time (min)"},"y":{"datum":80,"type":"quantitative","title":"OCR (pmol/min)"},"text":{"field":"lab"}}},
    {"data":{"name":"sig"},"transform":[{"filter":"datum.p == 'd2'"}],"mark":{"type":"rule","color":"#222"},"encoding":{"x":{"field":"t","type":"quantitative","title":"Time (min)"},"x2":{"field":"t2"},"y":{"field":"y","type":"quantitative","title":"OCR (pmol/min)"}}},
    {"data":{"name":"sig"},"transform":[{"filter":"datum.p == 'd2'"}],"mark":{"type":"text","baseline":"bottom","dy":1,"fontSize":12,"color":"#222"},"encoding":{"x":{"field":"tm","type":"quantitative","title":"Time (min)"},"y":{"field":"y","type":"quantitative","title":"OCR (pmol/min)"},"text":{"field":"lab"}}},
    {"data":{"name":"d_ocr"},"mark":{"type":"errorbar","ticks":{"size":5},"thickness":1},"encoding":{"x":{"field":"t","type":"quantitative","title":"Time (min)"},"y":{"field":"v","type":"quantitative","title":"OCR (pmol/min)"},"yError":{"field":"e"},"color":{"field":"s","type":"nominal","scale":{"domain":["Ova-IC","Ova"],"range":["#d42a30","#222222"]},"legend":null}}},
    {"data":{"name":"d_ocr"},"mark":{"type":"line","strokeWidth":1},"encoding":{"x":{"field":"t","type":"quantitative","title":"Time (min)"},"y":{"field":"v","type":"quantitative","title":"OCR (pmol/min)"},"color":{"field":"s","type":"nominal","scale":{"domain":["Ova-IC","Ova"],"range":["#e02030","#222222"]},"legend":null}}},
    {"data":{"name":"d_ocr"},"mark":{"type":"point","filled":true,"opacity":1,"strokeWidth":1,"size":42},"encoding":{
     "x":{"field":"t","type":"quantitative","title":"Time (min)"},
     "y":{"field":"v","type":"quantitative","title":"OCR (pmol/min)"},
     "shape":{"field":"s","type":"nominal","scale":{"domain":["Ova","Ova-IC"],"range":["circle","square"]},"legend":null},
     "fill":{"field":"s","type":"nominal","scale":{"domain":["Ova","Ova-IC"],"range":["#ffffff","#c8101e"]},"legend":null},
     "stroke":{"field":"s","type":"nominal","scale":{"domain":["Ova","Ova-IC"],"range":["#222222","#6a0a0a"]},"legend":null}}}
   ]}
 ],"bounds":"flush","spacing":54,"resolve":{"scale":{"color":"independent","fill":"independent","stroke":"independent","shape":"independent"}}},
 {"hconcat":[
  {"width":50,"height":105,"data":{"name":"bars"},"transform":[{"filter":"datum.p == 'e1'"}],
   "title":{"text":"E","anchor":"start","frame":"group","fontSize":18,"dx":-36,"offset":8},
   "encoding":{"x":{"field":"g","type":"nominal","sort":["Ova","Ova-IC"],"scale":{"paddingInner":0.35,"paddingOuter":0.15},"title":null,"axis":{"labels":false,"ticks":false}}},
   "layer":[
    {"mark":{"type":"rule","color":"#222"},"encoding":{"y":{"field":"v","type":"quantitative","scale":{"domain":[0,50]},"title":"ECAR (mpH/min)","axis":{"values":[0,10,20,30,40,50],"tickCount":20,"format":"d","labelOverlap":false}},"y2":{"field":"hi"}}},
    {"mark":{"type":"tick","color":"#222","size":8,"thickness":1},"encoding":{"y":{"field":"hi","type":"quantitative","title":"ECAR (mpH/min)"}}},
    {"mark":{"type":"bar","stroke":"#333","strokeWidth":0.6},"encoding":{"y":{"field":"v","type":"quantitative","title":"ECAR (mpH/min)"},"fill":{"field":"g","type":"nominal","scale":{"domain":["Ova","Ova-IC"],"range":["#232323","#c8101e"]},"legend":null}}},
    {"mark":{"type":"text","baseline":"bottom","dy":-2,"fontSize":11,"color":"#333"},"encoding":{"y":{"field":"hi","type":"quantitative","title":"ECAR (mpH/min)"},"text":{"field":"sig"}}}
   ]},
  {"width":50,"height":105,"data":{"name":"bars"},"transform":[{"filter":"datum.p == 'e2'"}],
   "title":{"text":"Murine peritoneal macrophages","subtitle":"────────────────────────────────────","anchor":"middle","frame":"group","fontSize":11.5,"subtitleFont":"DejaVu Sans","subtitleFontSize":10,"subtitleColor":"#888","subtitlePadding":-2,"offset":2},
   "encoding":{"x":{"field":"g","type":"nominal","sort":["Ova","Ova-IC"],"scale":{"paddingInner":0.35,"paddingOuter":0.15},"title":null,"axis":{"labels":false,"ticks":false}}},
   "layer":[
    {"mark":{"type":"rule","color":"#222"},"encoding":{"y":{"field":"v","type":"quantitative","scale":{"domain":[0,80]},"title":"OCR (pmol/min)","axis":{"values":[0,20,40,60,80],"tickCount":20,"format":"d","labelOverlap":false}},"y2":{"field":"hi"}}},
    {"mark":{"type":"tick","color":"#222","size":8,"thickness":1},"encoding":{"y":{"field":"hi","type":"quantitative","title":"OCR (pmol/min)"}}},
    {"mark":{"type":"bar","stroke":"#333","strokeWidth":0.6},"encoding":{"y":{"field":"v","type":"quantitative","title":"OCR (pmol/min)"},"fill":{"field":"g","type":"nominal","scale":{"domain":["Ova","Ova-IC"],"range":["#232323","#c8101e"]},"legend":{"orient":"none","direction":"horizontal","legendX":-25,"legendY":113,"title":null,"symbolType":"M-1.8,-0.8H1.8V0.8H-1.8Z","symbolSize":100,"labelFontSize":12.5,"columnPadding":14,"labelOffset":10,"symbolStrokeColor":"#333","symbolStrokeWidth":0.6}}}},
    {"mark":{"type":"text","baseline":"bottom","dy":-2,"fontSize":11,"color":"#333"},"encoding":{"y":{"field":"hi","type":"quantitative","title":"OCR (pmol/min)"},"text":{"field":"sig"}}}
   ]},
  {"width":50,"height":105,"data":{"name":"bars"},"transform":[{"filter":"datum.p == 'e3'"}],
   "encoding":{"x":{"field":"g","type":"nominal","sort":["Ova","Ova-IC"],"scale":{"paddingInner":0.35,"paddingOuter":0.15},"title":null,"axis":{"labels":false,"ticks":false}}},
   "layer":[
    {"mark":{"type":"rule","color":"#222"},"encoding":{"y":{"field":"v","type":"quantitative","scale":{"domain":[0,3]},"title":"ECAR/OCR","axis":{"values":[0,1,2,3],"tickCount":20,"format":"d","labelOverlap":false}},"y2":{"field":"hi"}}},
    {"mark":{"type":"tick","color":"#222","size":8,"thickness":1},"encoding":{"y":{"field":"hi","type":"quantitative","title":"ECAR/OCR"}}},
    {"mark":{"type":"bar","stroke":"#333","strokeWidth":0.6},"encoding":{"y":{"field":"v","type":"quantitative","title":"ECAR/OCR"},"fill":{"field":"g","type":"nominal","scale":{"domain":["Ova","Ova-IC"],"range":["#232323","#c8101e"]},"legend":null}}},
    {"mark":{"type":"text","baseline":"bottom","dy":-2,"fontSize":11,"color":"#333"},"encoding":{"y":{"field":"hi","type":"quantitative","title":"ECAR/OCR"},"text":{"field":"sig"}}}
   ]}
 ],"bounds":"flush","spacing":55,"resolve":{"scale":{"color":"independent","fill":"independent","stroke":"independent","shape":"independent"}}}
 ],"spacing":26,"resolve":{"scale":{"color":"independent","fill":"independent","stroke":"independent","shape":"independent"}}}
],"bounds":"flush","spacing":34,"resolve":{"scale":{"color":"independent","fill":"independent","stroke":"independent","shape":"independent"}}},
{"hconcat":[
 {"width":1,"height":1,"data":{"values":[]},"mark":{"type":"point","opacity":0},"title":{"text":["","F"],"lineHeight":38,"anchor":"start","frame":"group","fontSize":18,"offset":13}},
 {"hconcat":[
 {"data":{"name":"hm"},
  "transform":[{"fold":["c","i","l"],"as":["grp","arr"]},{"flatten":["arr"],"as":["z"]},{"window":[{"op":"row_number","as":"col"}],"groupby":["r","grp"]}],
  "align":{"row":"each","column":"all"},
  "facet":{
   "row":{"field":"g","type":"ordinal","title":null,"header":{"labelOrient":"right","labelAngle":0,"labelAlign":"right","labelBaseline":"middle","labelPadding":5,"labelFontSize":12,"labelExpr":"['','Down with IC','Up with IC','Down with LPS','Up with LPS'][datum.value]"}},
   "column":{"field":"grp","type":"nominal","title":null,"header":{"labelOrient":"top","labelFontSize":12,"labelBaseline":"bottom","labelPadding":-11,"labelExpr":"datum.value == 'c' ? 'Control' : datum.value == 'i' ? ['Immune','complex'] : 'LPS'"}}
  },
  "spacing":{"row":2,"column":2},
  "resolve":{"scale":{"y":"independent"}},
  "spec":{"width":{"step":8},"height":{"step":4.3},"mark":"rect",
   "encoding":{"x":{"field":"col","type":"ordinal","axis":null},"y":{"field":"r","type":"ordinal","axis":null},
    "color":{"field":"z","type":"quantitative","scale":{"domain":[-3.5,0,3.5],"range":["#2e3192","#ffffff","#c5161d"],"interpolate":"rgb"},
     "legend":{"title":"Row Z-Score","orient":"none","legendX":25,"legendY":314,"direction":"horizontal","gradientLength":78,"gradientThickness":13,"values":[-2,0,2],"titleFontSize":12,"titleAnchor":"middle","titlePadding":3,"labelFontSize":11}}}}
 },
 {"vconcat":[
  {"hconcat":[
   {"width":1,"height":105,"data":{"values":[]},"mark":{"type":"point","opacity":0},
    "title":{"text":"G","anchor":"start","frame":"group","fontSize":18,"offset":21}},
   {"width":119,"height":105,"data":{"name":"msea"},
    "title":{"text":"Immune complex MSEA","anchor":"middle","frame":"group","fontSize":11.5,"offset":7},
    "mark":{"type":"bar"},
    "encoding":{
     "y":{"field":"m","type":"nominal","sort":null,"scale":{"paddingInner":0.33,"paddingOuter":0.2},"axis":{"title":null,"labelFontSize":11.5,"labelLimit":300,"tickSize":4,"labelPadding":3}},
     "x":{"field":"v","type":"quantitative","scale":{"domain":[0,3]},"axis":{"values":[0,1,2,3],"title":"-log₁₀ (P value)","labelFlush":false,"titlePadding":6}},
     "fill":{"field":"p","type":"nominal","scale":{"domain":["P < 0.05","P < 0.01"],"range":["#dc7b1e","#c8141c"]},"legend":{"orient":"none","legendX":132,"legendY":34,"title":null,"symbolType":"square","symbolSize":110,"labelFontSize":12.5,"rowPadding":8,"labelOffset":10}}}}
  ],"bounds":"flush","spacing":218,"resolve":{"scale":{"color":"independent","fill":"independent","stroke":"independent","shape":"independent"}}},
  {"hconcat":[
   {"width":1,"height":1,"data":{"values":[]},"mark":{"type":"point","opacity":0},
    "title":{"text":"H","anchor":"start","frame":"group","fontSize":18,"dx":-27,"offset":0}},
   {"hconcat":[
    {"width":62,"height":103,
     "title":{"text":"Glucose","frame":"group","anchor":"middle","fontSize":11.5,"offset":6},
     "layer":[
      {"data":{"name":"hbars"},"transform":[{"filter":"datum.p == 'h1'"}],"mark":{"type":"rule","color":"#222"},"encoding":{"x":{"field":"g","type":"nominal","scale":{"domain":["Cntrl","Ova-IC","LPS"],"paddingInner":0.35,"paddingOuter":0.2},"title":null,"axis":{"labels":false,"ticks":false}},"y":{"field":"v","type":"quantitative","scale":{"domain":[0,10]},"title":"Peak area (x10⁵)","axis":{"values":[0,2,4,6,8,10],"tickCount":20,"format":"d","labelOverlap":false}},"y2":{"field":"hi"}}},
      {"data":{"name":"hbars"},"transform":[{"filter":"datum.p == 'h1'"}],"mark":{"type":"tick","color":"#222","size":8,"thickness":1},"encoding":{"x":{"field":"g","type":"nominal","title":null},"y":{"field":"hi","type":"quantitative","title":"Peak area (x10⁵)"}}},
      {"data":{"name":"hbars"},"transform":[{"filter":"datum.p == 'h1'"}],"mark":{"type":"bar","stroke":"#333","strokeWidth":0.6},"encoding":{"x":{"field":"g","type":"nominal","title":null},"y":{"field":"v","type":"quantitative","title":"Peak area (x10⁵)"},"fill":{"field":"g","type":"nominal","scale":{"domain":["Cntrl","Ova-IC","LPS"],"range":["#1e1e1e","#c8101e","#5fa8a2"]},"legend":null}}},
      {"data":{"name":"hsig"},"transform":[{"filter":"datum.p == 'h1'"}],"mark":{"type":"rule","color":"#444"},"encoding":{"x":{"field":"g1","type":"nominal","title":null},"x2":{"field":"g2"},"y":{"field":"y","type":"quantitative","title":"Peak area (x10⁵)"}}},
      {"data":{"name":"hsig"},"transform":[{"filter":"datum.p == 'h1' && datum.g2 == 'LPS'"}],"mark":{"type":"text","baseline":"bottom","dy":1,"fontSize":11,"color":"#333"},"encoding":{"x":{"field":"gm","type":"nominal","title":null},"y":{"field":"y","type":"quantitative","title":"Peak area (x10⁵)"},"text":{"field":"lab"}}},
      {"data":{"name":"hsig"},"transform":[{"filter":"datum.p == 'h1' && datum.g2 == 'Ova-IC'"}],"mark":{"type":"text","baseline":"bottom","dy":1,"dx":10,"fontSize":11,"color":"#333"},"encoding":{"x":{"field":"g1","type":"nominal","title":null},"y":{"field":"y","type":"quantitative","title":"Peak area (x10⁵)"},"text":{"field":"lab"}}}
     ]},
    {"width":62,"height":103,
     "title":{"text":["Glyceraldehyde-","3-phosphate"],"lineHeight":14,"frame":"group","anchor":"middle","fontSize":11.5,"offset":4},
     "layer":[
      {"data":{"name":"hbars"},"transform":[{"filter":"datum.p == 'h2'"}],"mark":{"type":"rule","color":"#222"},"encoding":{"x":{"field":"g","type":"nominal","scale":{"domain":["Cntrl","Ova-IC","LPS"],"paddingInner":0.35,"paddingOuter":0.2},"title":null,"axis":{"labels":false,"ticks":false}},"y":{"field":"v","type":"quantitative","scale":{"domain":[0,40]},"title":null,"axis":{"values":[0,10,20,30,40],"tickCount":20,"format":"d","labelOverlap":false}},"y2":{"field":"hi"}}},
      {"data":{"name":"hbars"},"transform":[{"filter":"datum.p == 'h2'"}],"mark":{"type":"tick","color":"#222","size":8,"thickness":1},"encoding":{"x":{"field":"g","type":"nominal","title":null},"y":{"field":"hi","type":"quantitative","title":null}}},
      {"data":{"name":"hbars"},"transform":[{"filter":"datum.p == 'h2'"}],"mark":{"type":"bar","stroke":"#333","strokeWidth":0.6},"encoding":{"x":{"field":"g","type":"nominal","title":null},"y":{"field":"v","type":"quantitative","title":null},"fill":{"field":"g","type":"nominal","scale":{"domain":["Cntrl","Ova-IC","LPS"],"range":["#1e1e1e","#c8101e","#5fa8a2"]},"legend":{"orient":"none","legendX":98,"legendY":19,"title":null,"symbolType":"square","symbolSize":110,"labelFontSize":11.5,"rowPadding":5,"labelOffset":8,"symbolStrokeColor":"#333","symbolStrokeWidth":0.6}}}},
      {"data":{"name":"hsig"},"transform":[{"filter":"datum.p == 'h2'"}],"mark":{"type":"rule","color":"#444"},"encoding":{"x":{"field":"g1","type":"nominal","title":null},"x2":{"field":"g2"},"y":{"field":"y","type":"quantitative","title":null}}},
      {"data":{"name":"hsig"},"transform":[{"filter":"datum.p == 'h2' && datum.g2 == 'LPS'"}],"mark":{"type":"text","baseline":"bottom","dy":1,"fontSize":11,"color":"#333"},"encoding":{"x":{"field":"gm","type":"nominal","title":null},"y":{"field":"y","type":"quantitative","title":null},"text":{"field":"lab"}}},
      {"data":{"name":"hsig"},"transform":[{"filter":"datum.p == 'h2' && datum.g2 == 'Ova-IC'"}],"mark":{"type":"text","baseline":"bottom","dy":1,"dx":10,"fontSize":11,"color":"#333"},"encoding":{"x":{"field":"g1","type":"nominal","title":null},"y":{"field":"y","type":"quantitative","title":null},"text":{"field":"lab"}}}
     ]}
   ],"bounds":"flush","spacing":41,"resolve":{"scale":{"color":"independent","fill":"independent","stroke":"independent","shape":"independent"}}}
  ],"bounds":"flush","spacing":55,"resolve":{"scale":{"color":"independent","fill":"independent","stroke":"independent","shape":"independent"}}}
 ],"spacing":59,"resolve":{"scale":{"color":"independent","fill":"independent","stroke":"independent","shape":"independent"}}}
 ],"spacing":17,"resolve":{"scale":{"color":"independent","fill":"independent","stroke":"independent","shape":"independent"}}}
],"bounds":"flush","spacing":24,"resolve":{"scale":{"color":"independent","fill":"independent","stroke":"independent","shape":"independent"}}}
]
}
